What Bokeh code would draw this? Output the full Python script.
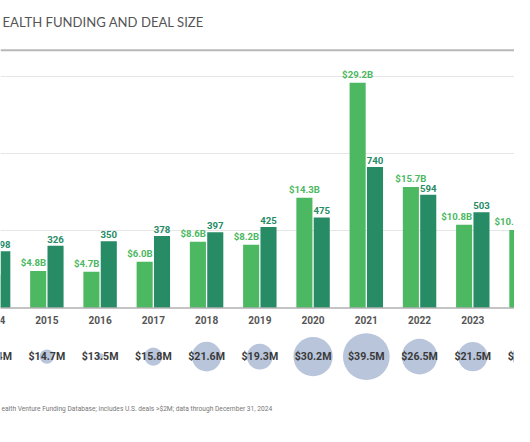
from bokeh.plotting import figure
from bokeh.models import ColumnDataSource, Range1d, Span, Grid, FixedTicker, Label
from bokeh.core.properties import value
from bokeh.embed import file_html
from bokeh.resources import INLINE

# ---- data ----
years = [2014, 2015, 2016, 2017, 2018, 2019, 2020, 2021, 2022, 2023, 2024]
funding_b = [4.3, 4.8, 4.7, 6.0, 8.6, 8.2, 14.3, 29.2, 15.7, 10.8, 10.1]
deal_counts = [298, 326, 350, 378, 397, 425, 475, 740, 594, 503, 497]
avg_deal_m = [14.4, 14.7, 13.5, 15.8, 21.6, 19.3, 30.2, 39.5, 26.5, 21.5, 20.4]
grid_ticks = [10, 20, 30]
title_text = "EALTH FUNDING AND DEAL SIZE"
note_text = "ealth Venture Funding Database; includes U.S. deals >$2M; data through December 31, 2024"

# ---- styling / layout ----
W, H = 514, 426
RW, RH = 530, 442          # reference canvas the layout is measured in
sx, sy = W / RW, H / RH
LIGHT = "#4cb862"
DARK = "#278b65"
BUBBLE = "#b9c5db"
ref_px_per_year = 54.9
x0 = 2015 - 47.8 / ref_px_per_year
x1 = 2015 + (RW - 47.8) / ref_px_per_year
y_hi = 319 / 8
y_lo = -(RH - 319) / 8
deal_k = 0.0247  # $B units per deal on shared pixel scale
bar_w = 0.302
off = 0.163

def fs(px):
    return f"{px * sy:.2f}px"

p = figure(width=W, height=H, output_backend="svg", toolbar_location=None,
           x_axis_type=None, y_axis_type=None,
           x_range=Range1d(x0, x1), y_range=Range1d(y_lo, y_hi),
           min_border=0, outline_line_color=None, background_fill_color="white")
p.extra_y_ranges = {"deals": Range1d(y_lo / deal_k, y_hi / deal_k)}

grid = Grid(dimension=1, ticker=FixedTicker(ticks=grid_ticks),
            grid_line_color="#e6e6e6", grid_line_width=1)
p.add_layout(grid)

lx = [y - off for y in years]
dx = [y + off for y in years]
src = ColumnDataSource(dict(
    lx=lx, dx=dx, year=years, f=funding_b, d=deal_counts,
    flab=[f"${v:.1f}B" for v in funding_b],
    dlab=[str(v) for v in deal_counts],
))

p.vbar(x="lx", top="f", width=bar_w, bottom=0, source=src,
       fill_color=LIGHT, line_color=None)
p.vbar(x="dx", top="d", width=bar_w, bottom=0, source=src,
       fill_color=DARK, line_color=None, y_range_name="deals")

# baseline and header rule
p.add_layout(Span(location=0, dimension="width", line_color="#b0b0b0", line_width=1.5))
p.add_layout(Span(location=(319 - 51.5) / 8, dimension="width", line_color="#b8b8b8", line_width=2))

# funding labels: centered unless the deals bar is taller, then right-aligned to bar edge
cen = {"x": [], "y": [], "t": []}
rgt = {"x": [], "y": [], "t": []}
for x, f, d, t in zip(lx, funding_b, deal_counts, src.data["flab"]):
    if d * deal_k > f:
        rgt["x"].append(x + bar_w / 2); rgt["y"].append(f); rgt["t"].append(t)
    else:
        cen["x"].append(x); cen["y"].append(f); cen["t"].append(t)
lab_kw = dict(text_font=value("Roboto"), text_font_style="bold",
              text_font_size=fs(10), text_baseline="bottom", y_offset=-3)
p.text(x="x", y="y", text="t", source=ColumnDataSource(cen), text_align="center",
       text_color=LIGHT, **lab_kw)
p.text(x="x", y="y", text="t", source=ColumnDataSource(rgt), text_align="right",
       text_color=LIGHT, **lab_kw)
p.text(x="dx", y="d", text="dlab", source=src, text_align="center",
       text_color=DARK, y_range_name="deals", **lab_kw)

# year labels
yl_y = (319 - 331) / 8
p.text(x=years, y=[yl_y] * len(years), text=[str(y) for y in years],
       text_font=value("Roboto"), text_font_style="bold", text_font_size=fs(10.5),
       text_color="#555555", text_align="center", text_baseline="middle")

# bubbles (size from avg deal value)
by = (319 - 369.5) / 8
sizes = [13.14 * sy * max(v - 13.3, 0.05) ** 0.4 for v in avg_deal_m]
bsrc = ColumnDataSource(dict(x=years, y=[by] * len(years), s=sizes,
                             t=[f"${v:.1f}M" for v in avg_deal_m]))
p.scatter(x="x", y="y", size="s", marker="circle", source=bsrc,
          fill_color=BUBBLE, line_color=None)
p.text(x="x", y="y", text="t", source=bsrc, text_font=value("Roboto"),
       text_font_style="bold", text_font_size=fs(11), text_color="#3a3a3a",
       text_align="center", text_baseline="middle")

# title and footnote
p.add_layout(Label(x=2 * sx, y=H - 22 * sy, x_units="screen", y_units="screen", text=title_text,
                   text_font="Lato", text_font_size=fs(13.6), text_color="#555555",
                   text_baseline="middle"))
p.add_layout(Label(x=1 * sx, y=H - 424 * sy, x_units="screen", y_units="screen", text=note_text,
                   text_font="Roboto", text_font_size=fs(6.9), text_color="#777777",
                   text_baseline="middle"))

open("out.html", "w").write(file_html(p, INLINE))
